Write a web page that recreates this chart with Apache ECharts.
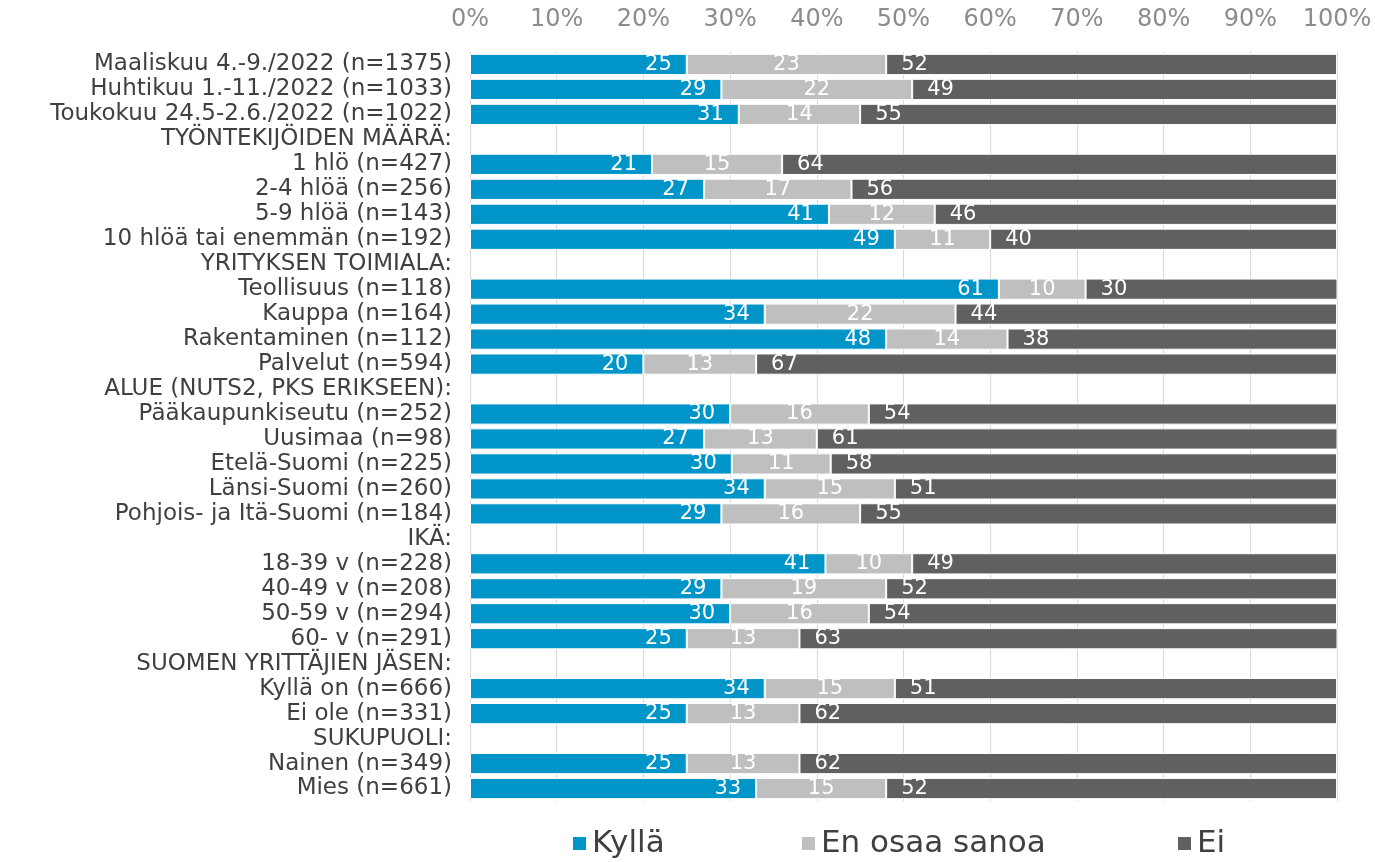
<!DOCTYPE html>
<html>
<head>
<meta charset="utf-8">
<script src="https://cdn.jsdelivr.net/npm/echarts@6/dist/echarts.min.js"></script>
<style>
  html, body { margin: 0; padding: 0; background: #fff; }
  #chart { width: 1375px; height: 862px; }
</style>
</head>
<body>
<div id="chart"></div>
<script>
// rows top to bottom; header rows have no bar values
var categories = [
  'Maaliskuu 4.-9./2022 (n=1375)',
  'Huhtikuu 1.-11./2022 (n=1033)',
  'Toukokuu 24.5-2.6./2022 (n=1022)',
  'TYÖNTEKIJÖIDEN MÄÄRÄ:',
  '1 hlö (n=427)',
  '2-4 hlöä (n=256)',
  '5-9 hlöä (n=143)',
  '10 hlöä tai enemmän (n=192)',
  'YRITYKSEN TOIMIALA:',
  'Teollisuus (n=118)',
  'Kauppa (n=164)',
  'Rakentaminen (n=112)',
  'Palvelut (n=594)',
  'ALUE (NUTS2, PKS ERIKSEEN):',
  'Pääkaupunkiseutu (n=252)',
  'Uusimaa (n=98)',
  'Etelä-Suomi (n=225)',
  'Länsi-Suomi (n=260)',
  'Pohjois- ja Itä-Suomi (n=184)',
  'IKÄ:',
  '18-39 v (n=228)',
  '40-49 v (n=208)',
  '50-59 v (n=294)',
  '60- v (n=291)',
  'SUOMEN YRITTÄJIEN JÄSEN:',
  'Kyllä on (n=666)',
  'Ei ole (n=331)',
  'SUKUPUOLI:',
  'Nainen (n=349)',
  'Mies (n=661)'
];

// shares in %, labels show them rounded
var kylla = [25, 29, 31, null, 21, 27, 41.4, 49, null, 61, 34, 48, 20, null, 30, 27, 30.2, 34, 29, null, 41, 29, 30, 25, null, 34, 25, null, 25, 33];
var enOsaa = [23, 22, 14, null, 15, 17, 12.2, 11, null, 10, 22, 14, 13, null, 16, 13, 11.4, 15, 16, null, 10, 19, 16, 13, null, 15, 13, null, 13, 15];
var ei = [52, 49, 55, null, 64, 56, 46.4, 40, null, 30, 44, 38, 67, null, 54, 61, 58.4, 51, 55, null, 49, 52, 54, 63, null, 51, 62, null, 62, 52];

var FONT = 'DejaVu Sans';

var chart = echarts.init(document.getElementById('chart'));

function barSeries(name, data, color, pos) {
  return {
    name: name,
    type: 'bar',
    stack: 'all',
    data: data,
    barCategoryGap: '15%',
    itemStyle: { color: color, borderColor: '#ffffff', borderWidth: 1 },
    label: {
      show: true,
      position: pos,
      distance: 15,
      color: '#ffffff',
      fontFamily: FONT,
      fontSize: 21,
      formatter: function (p) { return Math.round(p.value); }
    }
  };
}

chart.setOption({
  animation: false,
  textStyle: { fontFamily: FONT },
  grid: { left: 470, right: 38, top: 52, bottom: 61 },
  xAxis: {
    type: 'value',
    position: 'top',
    min: 0,
    max: 100,
    interval: 10,
    axisLine: { show: false },
    axisTick: { show: false },
    axisLabel: {
      formatter: '{value}%',
      color: '#8c8c8c',
      fontSize: 24,
      fontFamily: FONT,
      margin: 20
    },
    splitLine: { lineStyle: { color: '#d9d9d9', width: 1 } }
  },
  yAxis: {
    type: 'category',
    inverse: true,
    data: categories,
    axisLine: { show: false },
    axisTick: { show: false },
    axisLabel: {
      interval: 0,
      color: '#404040',
      fontSize: 23,
      fontFamily: FONT,
      margin: 18
    }
  },
  legend: [
    { data: ['Kyllä'], left: 566 },
    { data: ['En osaa sanoa'], left: 795 },
    { data: ['Ei'], left: 1171 }
  ].map(function (l) {
    l.bottom = -2;
    l.icon = 'rect';
    l.itemWidth = 15;
    l.itemHeight = 15;
    l.itemGap = 6;
    l.textStyle = { color: '#404040', fontSize: 31, fontFamily: FONT };
    return l;
  }),
  series: [
    barSeries('Kyllä', kylla, '#0095c8', 'insideRight'),
    barSeries('En osaa sanoa', enOsaa, '#bfbfbf', 'inside'),
    barSeries('Ei', ei, '#606060', 'insideLeft')
  ]
});
</script>
</body>
</html>
